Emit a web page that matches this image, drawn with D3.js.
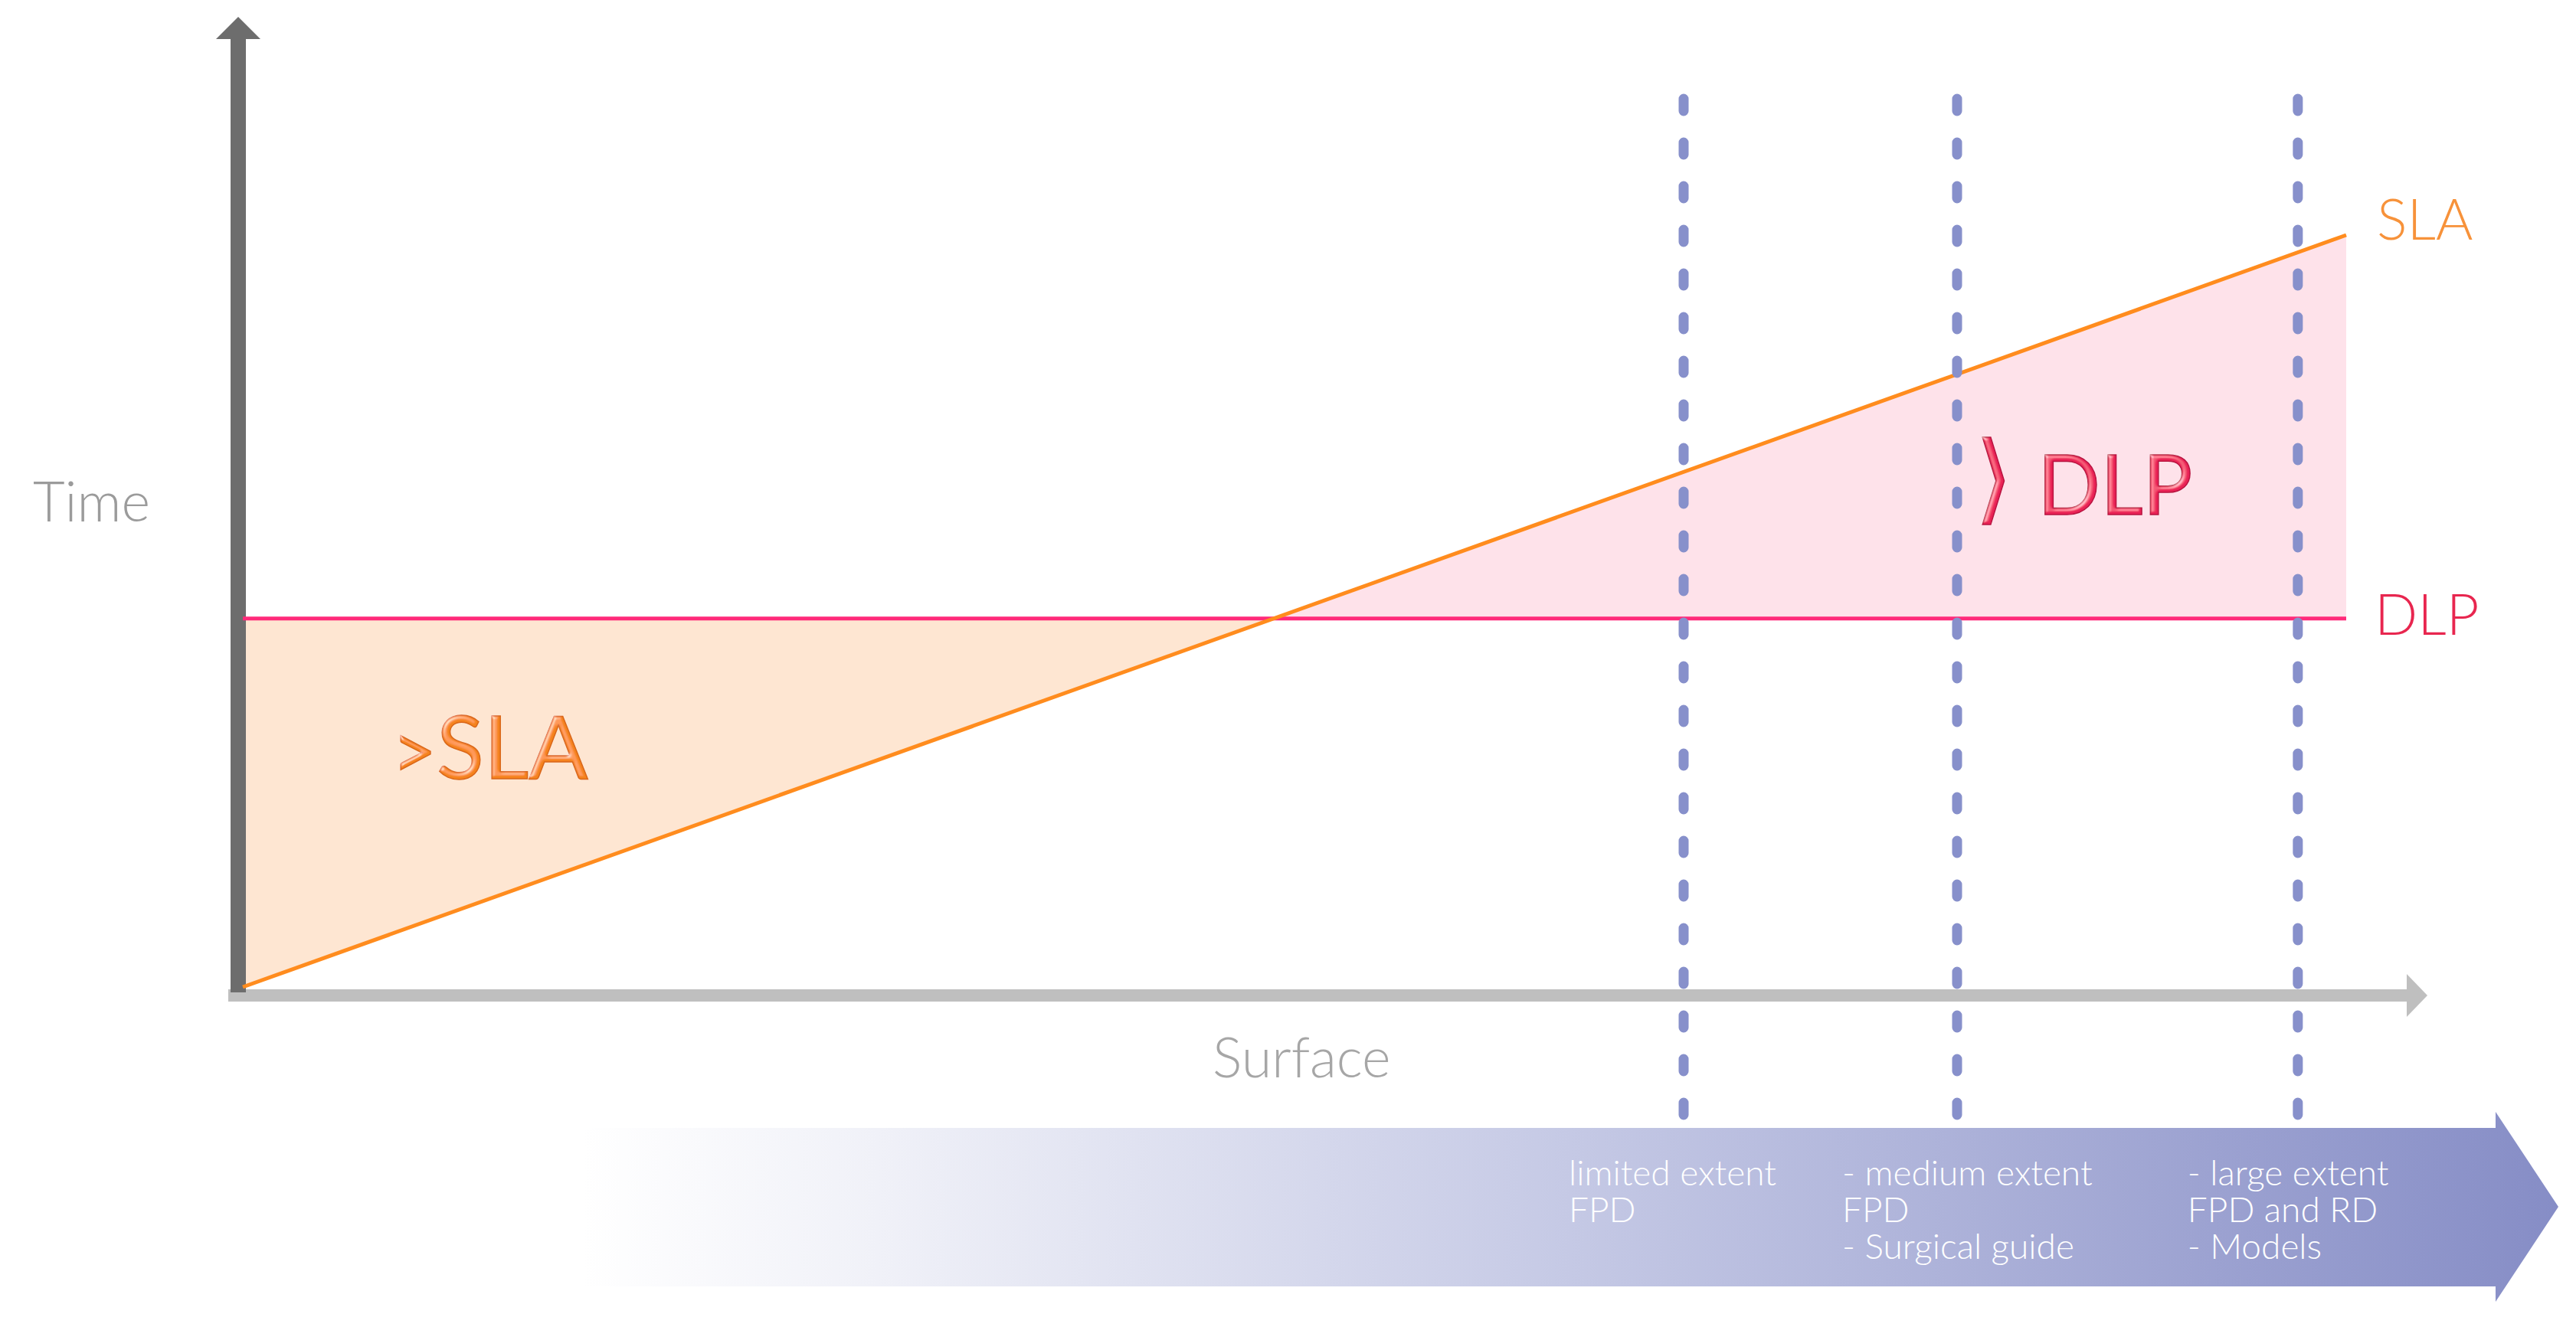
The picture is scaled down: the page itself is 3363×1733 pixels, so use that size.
<!DOCTYPE html>
<html>
<head>
<meta charset="utf-8">
<script src="https://cdn.jsdelivr.net/npm/d3@7"></script>
<style>
  body { margin: 0; background: #fff; }
  text { font-family: "Lato", "Open Sans", sans-serif; font-weight: 300; }
</style>
</head>
<body>
<div id="chart"></div>
<script>
// Chart values
const surface = [0, 100];          // x extent of the two curves
const slaTime = [0, 100];          // SLA time rises with surface
const dlpTime = [49, 49];          // DLP time stays flat
const thresholds = [68.5, 81.5, 97.7];   // surface where each application starts
const applications = [
  ["limited extent", "FPD"],
  ["- medium extent", "FPD", "- Surgical guide"],
  ["- large extent", "FPD and RD", "- Models"]
];

const width = 3363, height = 1733;

const svg = d3.select("#chart")
  .append("svg")
    .attr("width", width)
    .attr("height", height);

const x = d3.scaleLinear().domain([0, 100]).range([317, 3063]);
const y = d3.scaleLinear().domain([0, 100]).range([1289, 307]);

const defs = svg.append("defs");

// gradient for the big arrow at the bottom
const grad = defs.append("linearGradient")
    .attr("id", "bandGrad")
    .attr("gradientUnits", "userSpaceOnUse")
    .attr("x1", 760).attr("x2", 3340).attr("y1", 0).attr("y2", 0);
[[0, "#ffffff"], [0.15, "#f0f1f8"], [0.5, "#c5c9e5"], [1, "#868dc6"]].forEach(s => {
  grad.append("stop").attr("offset", s[0]).attr("stop-color", s[1]);
});

// bevel look of the big labels
const bevel = defs.append("filter").attr("id", "bevel");
bevel.append("feGaussianBlur").attr("in", "SourceAlpha").attr("stdDeviation", 2).attr("result", "blur");
bevel.append("feSpecularLighting")
    .attr("in", "blur").attr("surfaceScale", 3).attr("specularConstant", 0.5)
    .attr("specularExponent", 18).attr("lighting-color", "#ffffff").attr("result", "spec")
  .append("feDistantLight").attr("azimuth", 225).attr("elevation", 40);
bevel.append("feComposite").attr("in", "spec").attr("in2", "SourceAlpha").attr("operator", "in").attr("result", "specOut");
bevel.append("feComposite").attr("in", "SourceGraphic").attr("in2", "specOut")
    .attr("operator", "arithmetic").attr("k1", 0).attr("k2", 1).attr("k3", 1).attr("k4", 0);

// Bottom arrow with the applications
svg.append("path")
    .attr("d", "M760,1473 L3258,1473 L3258,1452 L3340,1576 L3258,1700 L3258,1680 L760,1680 Z")
    .attr("fill", "url(#bandGrad)");

applications.forEach((lines, i) => {
  lines.forEach((l, j) => {
    svg.append("text")
      .attr("x", x(thresholds[i]) - 150 + (i === 2 ? 6 : 0))
      .attr("y", 1548 + j * 48)
      .attr("fill", "#ffffff")
      .style("font-size", "46px")
      .text(l);
  });
});

// intersection of the two curves
const xi = surface[0] + (dlpTime[0] - slaTime[0]) / (slaTime[1] - slaTime[0]) * (surface[1] - surface[0]);

// >SLA area (left triangle)
svg.append("path")
    .attr("d", d3.line()([[x(surface[0]), y(dlpTime[0])], [x(surface[0]), y(slaTime[0])], [x(xi), y(dlpTime[0])]]) + "Z")
    .attr("fill", "#fee6d2");

// >DLP area (right triangle)
svg.append("path")
    .attr("d", d3.line()([[x(xi), y(dlpTime[1])], [x(surface[1]), y(slaTime[1])], [x(surface[1]), y(dlpTime[1])]]) + "Z")
    .attr("fill", "#fee2ea");

// Axes
svg.append("rect")
    .attr("x", 298).attr("y", 1292).attr("width", 2846).attr("height", 16)
    .attr("fill", "#bfbfbf");
svg.append("path")
    .attr("d", "M3142,1272 L3169,1300 L3142,1328 Z")
    .attr("fill", "#bfbfbf");

svg.append("rect")
    .attr("x", 301).attr("y", 48).attr("width", 20).attr("height", 1248)
    .attr("fill", "#6d6d6d");
svg.append("path")
    .attr("d", "M282,51 L311,22 L340,51 Z")
    .attr("fill", "#6d6d6d");

// DLP and SLA lines
svg.append("path")
    .attr("d", d3.line()(surface.map((s, i) => [x(s), y(dlpTime[i])])))
    .attr("stroke", "#ff2a7a").attr("stroke-width", 5).attr("fill", "none");
svg.append("path")
    .attr("d", d3.line()(surface.map((s, i) => [x(s), y(slaTime[i])])))
    .attr("stroke", "#ff8c1e").attr("stroke-width", 5).attr("fill", "none");

// Dotted threshold lines
svg.selectAll(".threshold")
  .data(thresholds)
  .enter()
  .append("line")
    .attr("class", "threshold")
    .attr("x1", d => x(d)).attr("x2", d => x(d))
    .attr("y1", 129).attr("y2", 1470)
    .attr("stroke", "#8790cb")
    .attr("stroke-width", 13)
    .attr("stroke-linecap", "round")
    .attr("stroke-dasharray", "16 41");

// Axis titles
svg.append("text")
    .attr("x", 43).attr("y", 681)
    .attr("fill", "#9b9b9b")
    .style("font-size", "72px")
    .text("Time");
svg.append("text")
    .attr("x", 1583).attr("y", 1407)
    .attr("fill", "#a6a6a6")
    .style("font-size", "72px")
    .text("Surface");

// Curve labels
svg.append("text")
    .attr("x", 3103).attr("y", 313)
    .attr("fill", "#f7923a")
    .style("font-size", "74px")
    .text("SLA");
svg.append("text")
    .attr("x", 3100).attr("y", 829)
    .attr("fill", "#e8264f")
    .style("font-size", "74px")
    .text("DLP");

// Area labels
const slaLab = svg.append("text")
    .attr("x", 512).attr("y", 1017)
    .attr("fill", "#f5831f")
    .attr("stroke", "#d9661a").attr("stroke-width", 1.5)
    .attr("filter", "url(#bevel)")
    .style("font-size", "114px").style("font-weight", 400);
slaLab.append("tspan").style("font-size", "100px").text(">");
slaLab.append("tspan").text("SLA");

const dlpLab = svg.append("text")
    .attr("x", 2578).attr("y", 672)
    .attr("fill", "#ea2457")
    .attr("stroke", "#b8123f").attr("stroke-width", 1.5)
    .attr("filter", "url(#bevel)")
    .style("font-size", "108px").style("font-weight", 400);
dlpLab.append("tspan").style("font-family", "DejaVu Sans").style("font-size", "128px").attr("dy", -4).text("\u27E9");
dlpLab.append("tspan").attr("x", 2660).attr("dy", 4).text("DLP");
</script>
</body>
</html>
